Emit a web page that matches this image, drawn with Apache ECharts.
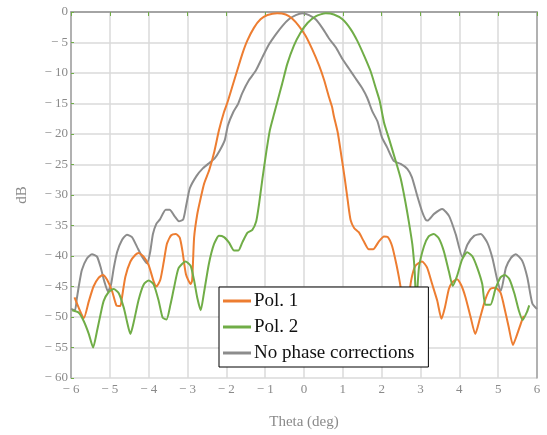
<!DOCTYPE html>
<html>
<head>
<meta charset="utf-8">
<script src="https://cdn.jsdelivr.net/npm/echarts@6/dist/echarts.min.js"></script>
<style>
html,body{margin:0;padding:0;background:#fff;}
#chart{width:547px;height:435px;}
</style>
</head>
<body>
<div id="chart"></div>
<script>
// ---- data ----
const xTicks = [-6,-5,-4,-3,-2,-1,0,1,2,3,4,5,6];
const yTicks = [0,-5,-10,-15,-20,-25,-30,-35,-40,-45,-50,-55,-60];
const seriesNames = ['Pol. 1', 'Pol. 2', 'No phase corrections'];

const pol1Theta = [-5.91,-5.80,-5.67,-5.54,-5.42,-5.29,-5.18,-5.07,-4.94,-4.83,-4.73,-4.69,-4.60,-4.47,-4.34,-4.26,-4.13,-4.00,-3.87,-3.80,-3.70,-3.61,-3.53,-3.42,-3.30,-3.20,-3.13,-3.04,-2.92,-2.88,-2.83,-2.75,-2.66,-2.57,-2.44,-2.31,-2.19,-2.06,-1.97,-1.85,-1.72,-1.59,-1.46,-1.29,-1.12,-0.94,-0.69,-0.47,-0.30,-0.13,0.04,0.21,0.39,0.52,0.64,0.72,0.77,0.87,0.96,1.05,1.13,1.20,1.29,1.41,1.54,1.67,1.78,1.93,2.06,2.16,2.27,2.38,2.47,2.62,2.76,2.87,3.04,3.17,3.30,3.43,3.54,3.63,3.73,3.81,3.94,4.05,4.16,4.29,4.41,4.54,4.67,4.80,4.93,5.06,5.14,5.27,5.38,5.48,5.61,5.66];
const pol1DB = [-46.8,-48.5,-50.2,-47.4,-45.0,-43.6,-43.1,-43.9,-45.8,-48.1,-48.2,-46.9,-43.4,-40.9,-39.8,-39.5,-40.1,-41.5,-44.2,-45.0,-43.9,-40.9,-38.0,-36.6,-36.4,-37.0,-39.2,-43.0,-44.6,-44.0,-37.0,-33.2,-30.5,-28.1,-25.9,-22.9,-19.4,-16.4,-14.8,-12.3,-9.6,-6.9,-4.7,-2.6,-1.2,-0.5,-0.2,-0.4,-1.1,-2.3,-3.9,-6.1,-8.8,-11.2,-13.9,-15.5,-17.1,-19.8,-23.5,-27.3,-31.1,-34.1,-35.4,-36.1,-37.6,-38.9,-38.9,-37.6,-36.8,-36.9,-38.4,-41.4,-44.4,-50.0,-44.0,-41.6,-40.9,-41.9,-44.6,-47.3,-50.3,-48.4,-45.4,-44.4,-43.8,-44.8,-46.8,-50.0,-52.8,-50.0,-47.1,-45.4,-45.2,-46.0,-47.9,-51.6,-54.6,-53.0,-50.6,-49.8];

const pol2Theta = [-5.97,-5.80,-5.67,-5.54,-5.43,-5.33,-5.24,-5.16,-5.03,-4.90,-4.77,-4.64,-4.56,-4.47,-4.38,-4.26,-4.13,-4.00,-3.87,-3.74,-3.64,-3.54,-3.44,-3.35,-3.23,-3.05,-2.92,-2.83,-2.75,-2.66,-2.58,-2.45,-2.32,-2.19,-2.06,-1.93,-1.80,-1.69,-1.59,-1.46,-1.33,-1.23,-1.16,-1.07,-0.97,-0.88,-0.77,-0.69,-0.56,-0.43,-0.26,-0.09,0.09,0.30,0.56,0.77,0.99,1.20,1.37,1.55,1.72,1.85,1.95,2.06,2.19,2.36,2.49,2.61,2.70,2.79,2.85,2.89,2.96,3.09,3.21,3.34,3.47,3.60,3.73,3.83,3.94,4.07,4.20,4.33,4.46,4.59,4.67,4.80,4.93,5.06,5.17,5.29,5.42,5.53,5.63,5.74,5.80];
const pol2DB = [-48.9,-49.3,-50.7,-52.8,-55.0,-52.3,-49.6,-47.4,-45.9,-45.4,-46.1,-48.5,-50.7,-52.8,-50.7,-47.2,-44.7,-44.0,-44.7,-47.4,-50.1,-50.4,-48.0,-45.3,-42.0,-40.9,-41.6,-44.0,-46.8,-48.9,-46.2,-41.3,-38.1,-36.7,-36.9,-37.8,-39.1,-39.1,-37.8,-36.2,-35.7,-34.3,-31.6,-27.3,-22.9,-19.4,-16.7,-14.8,-11.7,-8.5,-5.5,-3.4,-1.8,-0.7,-0.2,-0.4,-1.2,-2.8,-4.7,-7.2,-9.8,-12.5,-14.6,-18.1,-20.8,-24.4,-27.3,-31.1,-34.4,-38.1,-42.5,-48.0,-41.9,-38.4,-36.8,-36.4,-37.1,-39.2,-42.5,-44.9,-43.3,-40.6,-39.4,-40.0,-41.9,-44.6,-48.0,-48.0,-45.4,-43.5,-43.1,-43.8,-46.2,-48.9,-50.5,-49.2,-48.1];

const noCorrTheta = [-6.00,-5.90,-5.85,-5.80,-5.72,-5.59,-5.46,-5.33,-5.23,-5.14,-5.05,-4.97,-4.90,-4.81,-4.69,-4.56,-4.43,-4.30,-4.17,-4.04,-3.96,-3.89,-3.80,-3.71,-3.56,-3.46,-3.33,-3.22,-3.11,-3.03,-2.94,-2.77,-2.60,-2.43,-2.30,-2.17,-2.04,-1.96,-1.82,-1.70,-1.59,-1.42,-1.24,-1.07,-0.90,-0.73,-0.56,-0.39,-0.21,-0.04,0.13,0.30,0.47,0.64,0.82,0.99,1.16,1.33,1.50,1.63,1.76,1.89,2.01,2.14,2.31,2.49,2.66,2.78,2.91,3.04,3.13,3.18,3.35,3.56,3.74,3.91,4.08,4.21,4.38,4.55,4.72,4.85,4.98,5.07,5.20,5.33,5.45,5.62,5.75,5.88,6.00];
const noCorrDB = [-48.7,-48.9,-47.0,-45.0,-42.3,-40.4,-39.7,-40.1,-42.0,-44.2,-45.8,-44.7,-42.0,-39.3,-37.4,-36.5,-36.9,-38.5,-40.1,-41.2,-39.3,-36.4,-34.7,-34.0,-32.4,-32.4,-33.5,-34.3,-34.0,-31.6,-28.9,-26.9,-25.6,-24.7,-24.0,-22.7,-21.0,-18.6,-16.4,-15.1,-13.3,-11.2,-9.6,-7.4,-5.3,-3.7,-2.3,-1.2,-0.5,-0.2,-0.5,-1.2,-2.6,-4.3,-5.8,-7.7,-9.3,-10.9,-12.5,-14.1,-16.3,-17.9,-20.6,-22.2,-24.4,-24.9,-25.7,-27.1,-30.0,-32.7,-34.0,-34.2,-33.1,-32.3,-33.5,-36.5,-40.2,-38.1,-36.7,-36.4,-37.8,-40.3,-44.0,-45.7,-41.9,-40.3,-39.7,-40.8,-43.5,-47.8,-48.7];

// ---- build ----
const zip = (a, b) => a.map((t, i) => [t, b[i]]);
const fmt = v => (v < 0 ? '\u2212 ' + Math.abs(v) : String(v));
const serif = 'Liberation Serif, Times New Roman, serif';
const colors = ['#ED7D31', '#70AD47', '#8C8C8C'];

const chart = echarts.init(document.getElementById('chart'), null, {renderer: 'canvas'});
chart.setOption({
  animation: false,
  backgroundColor: '#ffffff',
  color: colors,
  grid: {left: 71, right: 10, top: 12, bottom: 53, containLabel: false},
  xAxis: [{
    type: 'value', min: xTicks[0], max: xTicks[xTicks.length - 1], interval: 1,
    position: 'bottom',
    name: 'Theta (deg)', nameLocation: 'middle', nameGap: 37,
    nameTextStyle: {fontFamily: serif, fontSize: 15, color: '#8a8a8a'},
    axisLine: {show: true, lineStyle: {color: '#a0a0a0', width: 1.5}},
    axisTick: {show: false},
    axisLabel: {formatter: fmt, fontFamily: serif, fontSize: 13, color: '#8a8a8a', margin: 5},
    splitLine: {show: true, lineStyle: {color: '#dadada', width: 1.5}}
  }, {
    type: 'value', min: xTicks[0], max: xTicks[xTicks.length - 1], interval: 1,
    position: 'top',
    axisLine: {show: true, onZero: false, lineStyle: {color: '#a0a0a0', width: 1.5}},
    axisTick: {show: true, inside: true, length: 4, lineStyle: {color: '#70AD47', width: 1}},
    axisLabel: {show: false},
    splitLine: {show: false}
  }],
  yAxis: [{
    type: 'value', min: yTicks[yTicks.length - 1], max: yTicks[0], interval: 5,
    position: 'left',
    name: 'dB', nameLocation: 'middle', nameGap: 41, nameRotate: 90,
    nameTextStyle: {fontFamily: serif, fontSize: 15, color: '#8a8a8a'},
    axisLine: {show: true, onZero: false, lineStyle: {color: '#a0a0a0', width: 1.5}},
    axisTick: {show: true, inside: true, length: 3, lineStyle: {color: '#70AD47', width: 1}},
    axisLabel: {formatter: fmt, fontFamily: serif, fontSize: 13, color: '#8a8a8a', margin: 3},
    splitLine: {show: true, lineStyle: {color: '#dadada', width: 1.5}}
  }, {
    type: 'value', min: yTicks[yTicks.length - 1], max: yTicks[0], interval: 5,
    position: 'right',
    axisLine: {show: true, onZero: false, lineStyle: {color: '#a0a0a0', width: 1.5}},
    axisTick: {show: false},
    axisLabel: {show: false},
    splitLine: {show: false}
  }],
  legend: {
    show: true, orient: 'vertical', left: 219, top: 287,
    data: seriesNames,
    icon: 'rect', itemWidth: 28, itemHeight: 3, itemGap: 6,
    padding: [4, 14, 4, 4],
    backgroundColor: '#ffffff', borderColor: '#000000', borderWidth: 1,
    textStyle: {fontFamily: serif, fontSize: 19, color: '#111', lineHeight: 20, padding: [0, 0, 0, -2]},
    z: 10
  },
  series: [
    {name: seriesNames[2], type: 'line', data: zip(noCorrTheta, noCorrDB), showSymbol: false, symbol: 'none', smooth: 0.2, lineStyle: {width: 2, color: colors[2]}, itemStyle: {color: colors[2]}},
    {name: seriesNames[0], type: 'line', data: zip(pol1Theta, pol1DB), showSymbol: false, symbol: 'none', smooth: 0.2, lineStyle: {width: 2, color: colors[0]}, itemStyle: {color: colors[0]}},
    {name: seriesNames[1], type: 'line', data: zip(pol2Theta, pol2DB), showSymbol: false, symbol: 'none', smooth: 0.2, lineStyle: {width: 2, color: colors[1]}, itemStyle: {color: colors[1]}}
  ]
});
</script>
</body>
</html>
